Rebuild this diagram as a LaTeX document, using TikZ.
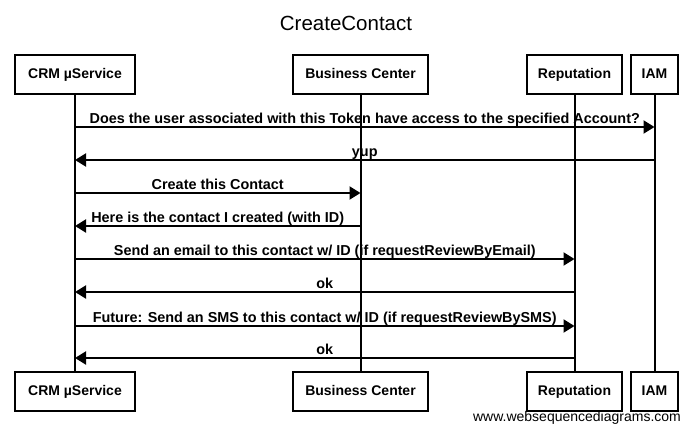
\documentclass[tikz,border=0pt]{standalone}
\usepackage{fontspec}
\setmainfont{Liberation Sans}
\usetikzlibrary{arrows.meta}
\begin{document}
\begin{tikzpicture}[x=1pt,y=-1pt,
  actor/.style={draw,line width=2pt,minimum height=39pt,inner sep=0pt,text height=10.2pt,text depth=2.8pt,font=\bfseries\fontsize{14}{16}\selectfont,fill=white},
  life/.style={line width=2pt},
  msg/.style={line width=2pt,-{Triangle[length=11pt,width=13pt]}},
  lbl/.style={font=\bfseries\fontsize{14.4}{16}\selectfont,inner sep=0pt,anchor=base,yshift=4pt}]
\useasboundingbox (0,0) rectangle (692,433);
\node[font=\fontsize{20.5}{24}\selectfont] (title) at (346,23) {CreateContact};
% top actors
\node[actor,minimum width=120pt] (crmT) at (75,75) {CRM µService};
\node[actor,minimum width=135pt] (bcT) at (360.5,75) {Business Center};
\node[actor,minimum width=95pt] (repT) at (574.5,75) {Reputation};
\node[actor,minimum width=47pt] (iamT) at (654.5,75) {IAM};
% bottom actors
\node[actor,minimum width=120pt] (crmB) at (75,391.5) {CRM µService};
\node[actor,minimum width=135pt] (bcB) at (360.5,391.5) {Business Center};
\node[actor,minimum width=95pt] (repB) at (574.5,391.5) {Reputation};
\node[actor,minimum width=47pt] (iamB) at (654.5,391.5) {IAM};
% lifelines
\draw[life] (crmT) -- (crmB);
\draw[life] (bcT) -- (bcB);
\draw[life] (repT) -- (repB);
\draw[life] (iamT) -- (iamB);
% message rows
\coordinate (r1) at (0,127);
\coordinate (r2) at (0,160);
\coordinate (r3) at (0,193);
\coordinate (r4) at (0,226);
\coordinate (r5) at (0,259);
\coordinate (r6) at (0,292);
\coordinate (r7) at (0,326);
\coordinate (r8) at (0,358);
\draw[msg] (crmT |- r1) -- node[lbl] {Does the user associated with this Token have access to the specified Account?} (iamT |- r1);
\draw[msg] (iamT |- r2) -- node[lbl] {yup} (crmT |- r2);
\draw[msg] (crmT |- r3) -- node[lbl] {Create this Contact} (bcT |- r3);
\draw[msg] (bcT |- r4) -- node[lbl] {Here is the contact I created (with ID)} (crmT |- r4);
\draw[msg] (crmT |- r5) -- node[lbl] {Send an email to this contact w/ ID (if requestReviewByEmail)} (repT |- r5);
\draw[msg] (repT |- r6) -- node[lbl] {ok} (crmT |- r6);
\draw[msg] (crmT |- r7) -- node[lbl] {Future: Send an SMS to this contact w/ ID (if requestReviewBySMS)} (repT |- r7);
\draw[msg] (repT |- r8) -- node[lbl] {ok} (crmT |- r8);
\node[font=\fontsize{14}{16}\selectfont,inner sep=0pt] (wm) at (577,418) {www.websequencediagrams.com};
\end{tikzpicture}
\end{document}
